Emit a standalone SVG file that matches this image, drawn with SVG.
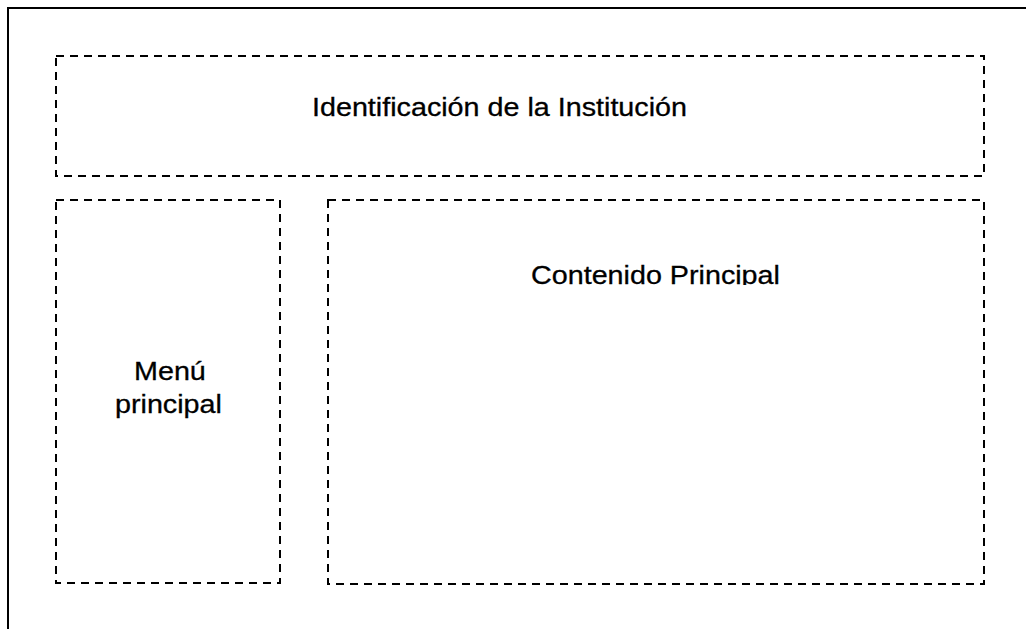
<svg xmlns="http://www.w3.org/2000/svg" width="1026" height="629" viewBox="0 0 1026 629">
<style>
.frame{fill:none;stroke:#000;stroke-width:2}
.box{fill:none;stroke:#000;stroke-width:2;stroke-dasharray:8 6}
.lbl{font-family:"Liberation Sans",Arial,sans-serif;font-size:26px;fill:#000;stroke:#000;stroke-width:0.3}
</style>
<defs>
<clipPath id="cp"><rect x="329" y="201" width="654" height="84"/></clipPath>
</defs>
<rect width="1026" height="629" fill="#fff"/>
<g id="frame"><rect class="frame" x="8" y="8" width="1040" height="650"/></g>
<g id="header">
<rect class="box" x="56" y="56" width="928" height="120"/>
<text class="lbl" transform="translate(312,116) scale(1.105,1)">Identificación de la Institución</text>
</g>
<g id="menu">
<rect class="box" x="56" y="200" width="224" height="383"/>
<text class="lbl" transform="translate(134,380) scale(1.105,1)">Menú</text>
<text class="lbl" transform="translate(115,413) scale(1.105,1)">principal</text>
</g>
<g id="content">
<rect class="box" x="328" y="200" width="656" height="384"/>
<g clip-path="url(#cp)">
<text class="lbl" transform="translate(531,284) scale(1.105,1)">Contenido Principal</text>
</g>
</g>
<g id="connectors"/>
</svg>
